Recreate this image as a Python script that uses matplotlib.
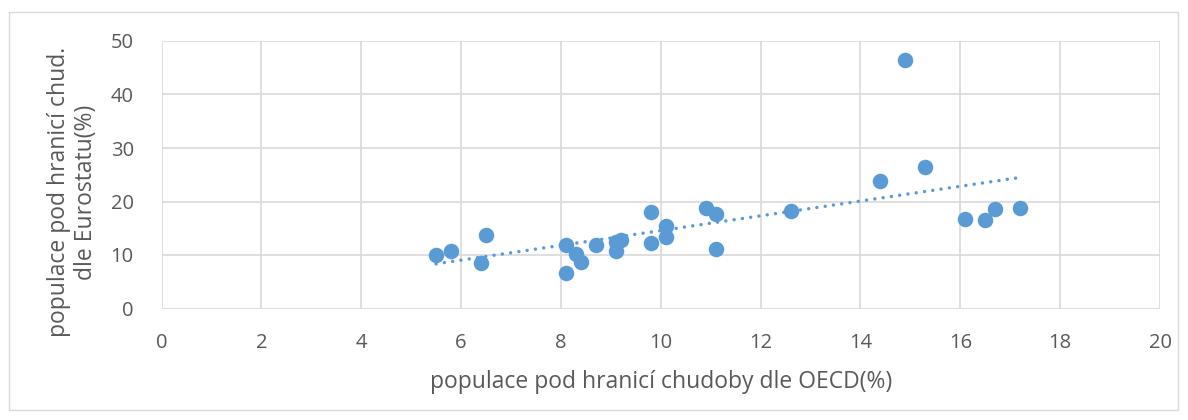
import numpy as np
import matplotlib.pyplot as plt
from matplotlib.patches import Rectangle

# OECD poverty rate (x) vs Eurostat poverty rate (y), in %
oecd = [5.5, 5.8, 6.5, 6.4, 8.1, 8.1, 8.3, 8.4, 8.7, 9.1, 9.1, 9.2, 9.8, 9.8,
        10.1, 10.1, 10.9, 11.1, 11.1, 12.6, 14.4, 14.9, 15.3, 16.1, 16.5, 16.7, 17.2]
eurostat = [10.0, 10.7, 13.8, 8.5, 11.8, 6.6, 10.1, 8.7, 11.8, 10.8, 12.4, 12.8, 12.3, 18.1,
            15.4, 13.4, 18.7, 17.6, 11.2, 18.3, 23.9, 46.4, 26.5, 16.8, 16.5, 18.6, 18.8]

xticks = list(range(0, 21, 2))
yticks = list(range(0, 51, 10))

blue = '#5B9BD5'
grid = '#D9D9D9'
text_col = '#595959'

plt.rcParams['font.family'] = ['Open Sans', 'DejaVu Sans']

fig = plt.figure(figsize=(11.88, 4.2), dpi=100)
ax = fig.add_axes([161.5 / 1188, 1 - 308.5 / 420, (1160 - 161.5) / 1188, (308.5 - 41) / 420])

# outer chart border
fig.patches.append(Rectangle((9 / 1188, 1 - 410 / 420), 1169 / 1188, 398 / 420,
                             transform=fig.transFigure, fill=False, edgecolor=grid, lw=1))

ax.scatter(oecd, eurostat, s=125, color=blue, zorder=3, linewidths=0)

# linear trendline
k, q = np.polyfit(oecd, eurostat, 1)
tx = np.array([min(oecd), max(oecd)])
ax.plot(tx, k * tx + q, color=blue, lw=2.5, ls=(0, (0.01, 2.4)),
        dash_capstyle='round', zorder=2)

ax.set_xlim(0, 20)
ax.set_ylim(0, 50)
ax.set_xticks(xticks)
ax.set_yticks(yticks)
ax.grid(True, color=grid, lw=1.2)
ax.set_axisbelow(True)
for s in ax.spines.values():
    s.set_visible(False)
ax.tick_params(length=0, labelsize=14.5, colors=text_col)
ax.tick_params(axis='x', pad=18)
ax.tick_params(axis='y', pad=20)

ax.set_xlabel('populace pod hranicí chudoby dle OECD(%)', fontsize=16.5, color=text_col, labelpad=12)
ax.set_ylabel('populace pod hranicí chud.\ndle Eurostatu(%)', fontsize=16.5, color=text_col,
              linespacing=1.15)
ax.yaxis.set_label_coords(-0.064, 0.435)

fig.savefig('out.png', dpi=100)
